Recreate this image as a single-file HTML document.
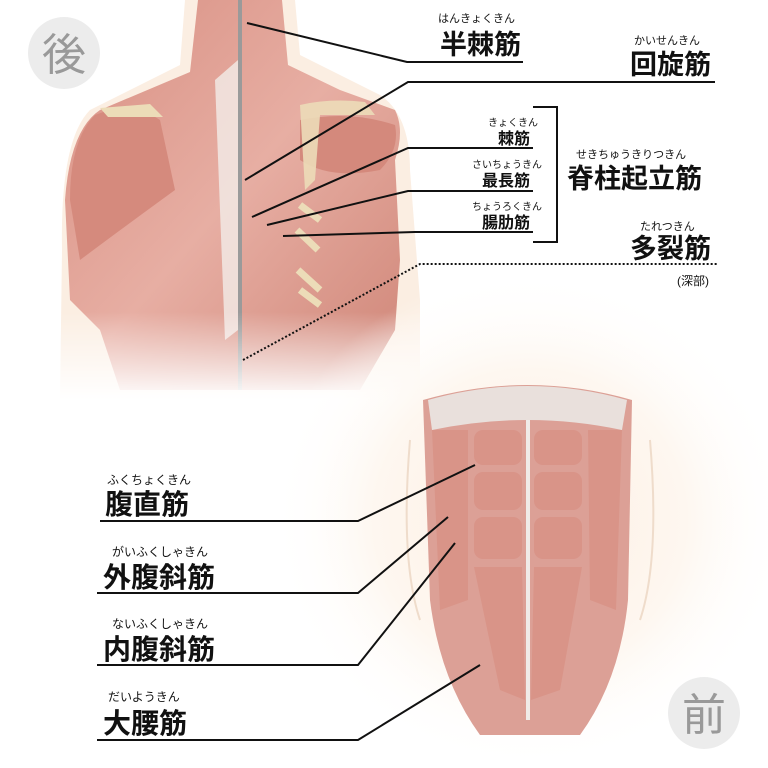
<!DOCTYPE html>
<html><head><meta charset="utf-8"><style>
html,body{margin:0;padding:0;background:#fff}
svg{display:block}
text{font-family:"Liberation Sans","Noto Sans CJK JP",sans-serif;fill:#111}
.b{font-weight:bold}
</style></head><body>
<svg width="768" height="768" viewBox="0 0 768 768" xmlns="http://www.w3.org/2000/svg">
<defs>
<radialGradient id="skin" cx="0.5" cy="0.5" r="0.5">
<stop offset="0" stop-color="#fcefe2"/><stop offset="0.6" stop-color="#fef7f0"/><stop offset="1" stop-color="#fff" stop-opacity="0"/>
</radialGradient>
<linearGradient id="fadeB" x1="0" y1="0" x2="0" y2="1">
<stop offset="0" stop-color="#fff"/><stop offset="0.78" stop-color="#fff"/><stop offset="1" stop-color="#000"/>
</linearGradient>
<mask id="mB"><rect x="0" y="0" width="440" height="400" fill="url(#fadeB)"/></mask>
<linearGradient id="mus" x1="0" y1="0" x2="1" y2="1">
<stop offset="0" stop-color="#d88f82"/><stop offset="0.5" stop-color="#e7aea3"/><stop offset="1" stop-color="#cf8577"/>
</linearGradient>
</defs>
<g mask="url(#mB)">
<path d="M185,0 L295,0 L300,55 L380,95 Q410,115 410,170 L420,300 L420,400 L60,400 L62,250 Q60,140 90,110 L180,65 Z" fill="#fbeee2"/>
<path d="M198,0 L282,0 L288,65 L340,90 L395,110 Q405,130 395,160 L400,260 L395,330 L360,390 L120,390 L100,330 L70,300 L65,200 Q70,130 100,110 L190,72 Z" fill="url(#mus)"/>
<path d="M95,115 Q130,100 160,120 L175,190 Q120,230 80,260 L70,200 Q70,140 95,115Z" fill="#d58a7d"/>
<path d="M300,120 Q350,110 395,125 Q400,150 380,170 Q330,180 300,160Z" fill="#d4897c"/>
<path d="M300,105 Q330,98 365,102 L375,115 L320,115 L315,180 L305,190 Z" fill="#ecdcb8" opacity="0.9"/>
<path d="M100,108 L150,104 L163,117 L108,117 Z" fill="#ecdcb8"/>
<rect x="238" y="0" width="4" height="390" fill="#9a9a9a"/>
<path d="M215,80 L238,60 L238,330 L225,340 Z" fill="#f3ece9" opacity="0.8"/>
<path d="M300,205 L320,220 M297,230 L318,250 M298,270 L320,290 M300,290 L320,305" stroke="#ecdcb8" stroke-width="7"/>
</g>
<circle cx="64" cy="53" r="36" fill="#ececec"/>
<text x="64" y="70" font-size="44" text-anchor="middle" style="fill:#999">後</text>
<ellipse cx="530" cy="520" rx="260" ry="250" fill="url(#skin)"/>
<path d="M410,440 Q400,560 420,620 M650,440 Q660,560 640,620" stroke="#efdccb" stroke-width="2" fill="none"/>
<path d="M423,400 Q528,370 632,400 L628,600 Q620,680 580,735 L480,735 Q440,680 430,600 Z" fill="#dca096"/>
<path d="M428,400 Q528,372 627,400 L622,430 Q528,410 432,430Z" fill="#e9e0dc"/>
<g fill="#d99488">
<rect x="474" y="430" width="48" height="35" rx="9"/><rect x="534" y="430" width="48" height="35" rx="9"/>
<rect x="474" y="472" width="48" height="38" rx="9"/><rect x="534" y="472" width="48" height="38" rx="9"/>
<rect x="474" y="517" width="48" height="42" rx="9"/><rect x="534" y="517" width="48" height="42" rx="9"/>
<path d="M474,567 L522,567 L525,700 L500,690 Z"/><path d="M534,567 L582,567 L560,690 L531,700 Z"/>
<path d="M432,430 L468,430 L468,600 L440,610 Z"/><path d="M588,430 L622,430 L616,610 L590,600Z"/>
</g>
<rect x="526" y="420" width="4" height="300" fill="#f0ebe8"/>
<circle cx="704" cy="713" r="36" fill="#ececec"/>
<text x="704" y="730" font-size="44" text-anchor="middle" style="fill:#999">前</text>
<g stroke="#111" stroke-width="2" fill="none">
<polyline points="247,23 407,62 523,62"/>
<polyline points="245,180 408,82 715,82"/>
<polyline points="252,217 408,148 533,148"/>
<polyline points="267,225 408,191 533,191"/>
<polyline points="283,236 415,232 533,232"/>
<polyline points="533,107 557,107 557,242 533,242"/>
<polyline points="243,360 420,264 718,264" stroke-dasharray="2,2"/>
<polyline points="100,521 358,521 475,465"/>
<polyline points="97,593 358,593 448,517"/>
<polyline points="97,665 358,665 455,543"/>
<polyline points="97,740 358,740 480,665"/>
</g>
<text x="438" y="22" font-size="11">はんきょくきん</text>
<text x="440" y="54" font-size="27" class="b">半棘筋</text>
<text x="634" y="44" font-size="11">かいせんきん</text>
<text x="630" y="74" font-size="27" class="b">回旋筋</text>
<text x="488" y="126" font-size="10">きょくきん</text>
<text x="498" y="144" font-size="16" class="b">棘筋</text>
<text x="472" y="168" font-size="10">さいちょうきん</text>
<text x="482" y="186" font-size="16" class="b">最長筋</text>
<text x="472" y="210" font-size="10">ちょうろくきん</text>
<text x="482" y="228" font-size="16" class="b">腸肋筋</text>
<text x="576" y="158" font-size="11">せきちゅうきりつきん</text>
<text x="567" y="188" font-size="27" class="b">脊柱起立筋</text>
<text x="640" y="230" font-size="11">たれつきん</text>
<text x="630" y="258" font-size="27" class="b">多裂筋</text>
<text x="677" y="285" font-size="12">(深部)</text>
<text x="107" y="484" font-size="12">ふくちょくきん</text>
<text x="105" y="514" font-size="28" class="b">腹直筋</text>
<text x="112" y="556" font-size="12">がいふくしゃきん</text>
<text x="103" y="587" font-size="28" class="b">外腹斜筋</text>
<text x="112" y="628" font-size="12">ないふくしゃきん</text>
<text x="103" y="659" font-size="28" class="b">内腹斜筋</text>
<text x="108" y="701" font-size="12">だいようきん</text>
<text x="103" y="733" font-size="28" class="b">大腰筋</text>
</svg>
</body></html>
